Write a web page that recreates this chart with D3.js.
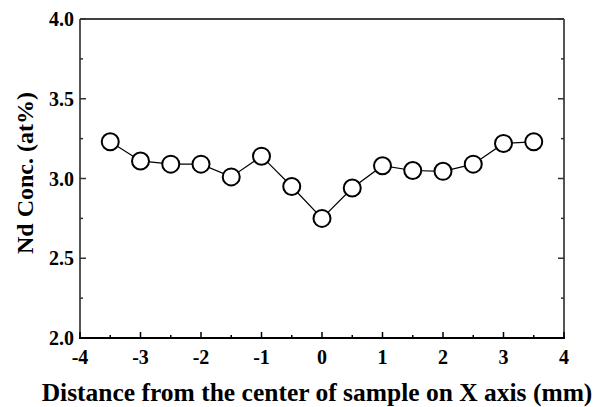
<!DOCTYPE html>
<html>
<head>
<meta charset="utf-8">
<script src="https://cdn.jsdelivr.net/npm/d3@7"></script>
<style>
  html, body { margin: 0; padding: 0; background: #fff; }
  text { font-family: "Liberation Serif", "Times New Roman", serif; font-weight: bold; fill: #000; }
</style>
</head>
<body>
<script>
const distances = [-3.5, -3, -2.5, -2, -1.5, -1, -0.5, 0, 0.5, 1, 1.5, 2, 2.5, 3, 3.5];
const ndConc = [3.23, 3.11, 3.09, 3.09, 3.01, 3.14, 2.95, 2.75, 2.94, 3.08, 3.05, 3.045, 3.09, 3.22, 3.23];
const xTicks = [-4, -3, -2, -1, 0, 1, 2, 3, 4];
const yTicks = [2.0, 2.5, 3.0, 3.5, 4.0];

const width = 605, height = 407;
const margin = { top: 19, right: 41, bottom: 69, left: 80 };

const svg = d3.select('body').append('svg')
  .attr('width', width)
  .attr('height', height);

const x = d3.scaleLinear().domain([-4, 4]).range([margin.left, width - margin.right]);
const y = d3.scaleLinear().domain([2, 4]).range([height - margin.bottom, margin.top]);

const minorX = d3.range(-3.5, 4, 1);
const minorY = [2.25, 2.75, 3.25, 3.75];

// frame: top line thin black
svg.append('line')
  .attr('x1', x(-4)).attr('x2', x(4))
  .attr('y1', y(4)).attr('y2', y(4))
  .attr('stroke', '#000').attr('stroke-width', 1.3);

// left axis
const left = svg.append('g').attr('transform', `translate(${x(-4)},0)`);
left.append('line').attr('y1', y(2)).attr('y2', y(4)).attr('stroke', '#555').attr('stroke-width', 2);
left.selectAll('.maj').data(yTicks).join('line')
  .attr('x1', 0).attr('x2', 6).attr('y1', d => y(d)).attr('y2', d => y(d))
  .attr('stroke', '#333').attr('stroke-width', 1.5);
left.selectAll('.min').data(minorY).join('line')
  .attr('x1', 0).attr('x2', 3).attr('y1', d => y(d)).attr('y2', d => y(d))
  .attr('stroke', '#333').attr('stroke-width', 1.5);
left.selectAll('text').data(yTicks).join('text')
  .attr('x', -6).attr('y', d => y(d)).attr('dy', '0.35em')
  .attr('text-anchor', 'end').attr('font-size', 20)
  .text(d => d3.format('.1f')(d));

// right axis
const right = svg.append('g').attr('transform', `translate(${x(4)},0)`);
right.append('line').attr('y1', y(2)).attr('y2', y(4)).attr('stroke', '#555').attr('stroke-width', 2);
right.selectAll('.maj').data(yTicks).join('line')
  .attr('x1', 0).attr('x2', -6).attr('y1', d => y(d)).attr('y2', d => y(d))
  .attr('stroke', '#333').attr('stroke-width', 1.5);
right.selectAll('.min').data(minorY).join('line')
  .attr('x1', 0).attr('x2', -3).attr('y1', d => y(d)).attr('y2', d => y(d))
  .attr('stroke', '#333').attr('stroke-width', 1.5);

// bottom axis
const bottom = svg.append('g').attr('transform', `translate(0,${y(2)})`);
bottom.append('line').attr('x1', x(-4) - 1).attr('x2', x(4) + 1).attr('stroke', '#000').attr('stroke-width', 2);
bottom.selectAll('.maj').data(xTicks).join('line')
  .attr('x1', d => x(d)).attr('x2', d => x(d)).attr('y1', 0).attr('y2', -6)
  .attr('stroke', '#000').attr('stroke-width', 1.5);
bottom.selectAll('.min').data(minorX).join('line')
  .attr('x1', d => x(d)).attr('x2', d => x(d)).attr('y1', 0).attr('y2', -3)
  .attr('stroke', '#000').attr('stroke-width', 1.5);
bottom.selectAll('text').data(xTicks).join('text')
  .attr('x', d => x(d)).attr('y', 26)
  .attr('text-anchor', 'middle').attr('font-size', 20)
  .text(d => d);

// data line + markers
const line = d3.line().x((d, i) => x(distances[i])).y(d => y(d));
svg.append('path')
  .datum(ndConc)
  .attr('fill', 'none').attr('stroke', '#000').attr('stroke-width', 1.2)
  .attr('d', line);

svg.selectAll('circle').data(ndConc).join('circle')
  .attr('cx', (d, i) => x(distances[i])).attr('cy', d => y(d))
  .attr('r', 8.5)
  .attr('fill', '#fff').attr('stroke', '#000').attr('stroke-width', 2);

// axis titles
svg.append('text')
  .attr('x', 317).attr('y', 401)
  .attr('text-anchor', 'middle').attr('font-size', 25.5)
  .text('Distance from the center of sample on X axis (mm)');

svg.append('text')
  .attr('transform', 'translate(33,173) rotate(-90)')
  .attr('text-anchor', 'middle').attr('font-size', 24)
  .text('Nd Conc. (at%)');
</script>
</body>
</html>
